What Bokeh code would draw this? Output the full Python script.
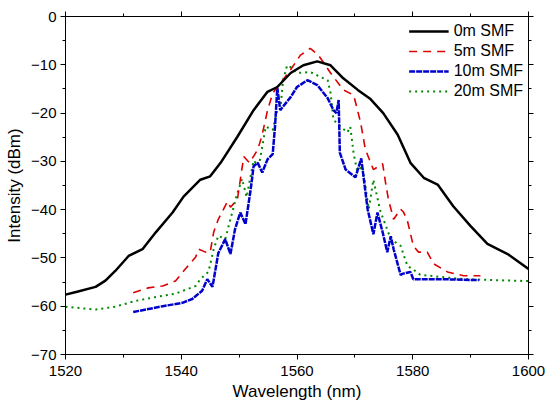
from bokeh.plotting import figure
from bokeh.models import (LinearAxis, FixedTicker, Range1d, Legend, LegendItem)
from bokeh.embed import file_html
from bokeh.resources import INLINE

# ---------------- data ----------------
wl0 = [1520, 1522, 1525.2, 1526.9, 1528.6, 1530.9, 1533.3, 1535.6, 1538.5, 1540.4,
       1543.3, 1545, 1546.8, 1549.7, 1552.5, 1554.9, 1556.6, 1558.9, 1561.1, 1563.5,
       1565.8, 1568, 1570.5, 1572.7, 1574.9, 1577.4, 1579.6, 1581.9, 1584.3, 1587,
       1590, 1592.9, 1596.4, 1600]
I0 = [-57.6, -57.0, -56.0, -54.7, -52.7, -49.6, -48.2, -44.7, -40.6, -37.3,
      -33.8, -33.1, -30.3, -24.9, -19.4, -15.6, -14.6, -11.7, -10.1, -9.3,
      -10.1, -12.8, -15.2, -17.1, -20.0, -24.5, -30.3, -33.4, -34.8, -39.3,
      -43.4, -47.1, -49.2, -52.3]

wl5 = [1531.7, 1534.3, 1536.8, 1539.0, 1540.7, 1542.5, 1543.0, 1544.2, 1545.0, 1545.6,
       1546.4, 1548.0, 1548.5, 1549.7, 1550.8, 1551.8, 1553.2, 1553.9, 1554.9, 1555.8,
       1556.6, 1558.5, 1560.6, 1562.3, 1563.7, 1565.8, 1568.0, 1569.8, 1571.0, 1571.8,
       1573.2, 1574.8, 1575.3, 1575.8, 1576.7, 1577.9, 1578.4, 1579.1, 1580.1, 1581.0,
       1582.5, 1583.6, 1586.0, 1588.8, 1591.7]
I5 = [-57.2, -56.2, -55.8, -54.8, -52.3, -49.8, -48.2, -48.8, -48.8, -44.7,
      -42.0, -38.3, -39.5, -37.9, -29.0, -30.3, -27.6, -24.9, -19.5, -15.9,
      -14.6, -11.7, -8.0, -6.6, -8.0, -11.7, -15.2, -16.3, -22.0, -27.5,
      -31.7, -30.5, -34.4, -37.9, -42.0, -39.9, -40.5, -42.4, -47.5, -48.8,
      -48.8, -51.2, -52.9, -53.7, -53.7]

wl10 = [1531.7, 1536.8, 1540.2, 1541.9, 1543.0, 1543.6, 1544.5, 1545.4, 1546.4, 1547.6,
        1548.5, 1549.3, 1550.2, 1551.1, 1552.0, 1552.5, 1553.2, 1554.0, 1554.9, 1555.8,
        1556.2, 1556.6, 1557.1, 1558.9, 1560.0, 1561.8, 1563.5, 1565.3, 1566.3, 1566.8,
        1567.2, 1567.4, 1568.4, 1570.1, 1571.1, 1572.2, 1573.2, 1573.9, 1574.8, 1575.6,
        1576.2, 1576.7, 1577.9, 1578.2, 1579.6, 1580.1, 1585.0, 1591.4]
I10 = [-61.2, -60.0, -59.3, -58.5, -57.4, -56.8, -54.4, -56.0, -49.0, -46.1,
       -49.2, -44.0, -40.6, -43.0, -35.8, -31.0, -30.3, -32.3, -29.6, -28.5,
       -22.8, -14.8, -19.4, -16.7, -14.6, -13.2, -14.2, -16.9, -19.4, -20.0,
       -17.3, -28.2, -31.7, -33.3, -29.4, -39.9, -45.1, -40.6, -44.7, -48.8,
       -45.5, -48.2, -53.5, -53.3, -52.9, -54.4, -54.4, -54.6]

wl20 = [1520, 1525.2, 1528.6, 1532.1, 1535.6, 1539.0, 1542.5, 1543.3, 1544.7, 1545.6,
        1546.4, 1547.6, 1548.8, 1549.6, 1550.5, 1551.3, 1552.5, 1553.4, 1554.6, 1555.8,
        1556.6, 1557.1, 1557.6, 1558.3, 1558.9, 1560.0, 1562.3, 1564.0, 1565.3, 1565.8,
        1566.3, 1567.5, 1568.7, 1569.2, 1569.8, 1570.4, 1571.3, 1572.4, 1573.2, 1574.4,
        1576.2, 1577.9, 1579.1, 1580.0, 1581.3, 1588.8, 1600]
I20 = [-60.1, -60.7, -60.1, -58.9, -58.1, -57.4, -55.8, -54.4, -52.9, -48.2,
       -45.4, -46.1, -40.6, -37.0, -33.6, -37.4, -29.8, -31.0, -22.8, -23.5,
       -19.4, -19.4, -13.2, -10.1, -10.5, -11.7, -11.5, -12.5, -13.2, -15.9,
       -21.4, -22.8, -24.0, -22.8, -28.5, -32.0, -31.0, -39.9, -33.8, -40.3,
       -46.1, -47.5, -51.7, -52.3, -53.5, -54.4, -54.8]

series_labels = ["0m SMF", "5m SMF", "10m SMF", "20m SMF"]
x_ticks = [1520, 1540, 1560, 1580, 1600]
x_minor = [1530, 1550, 1570, 1590]
y_ticks = [0, -10, -20, -30, -40, -50, -60, -70]
y_minor = [-5, -15, -25, -35, -45, -55, -65]

FONT = "Liberation Sans"

p = figure(width=545, height=403, output_backend="svg", toolbar_location=None,
           x_range=Range1d(1520, 1600), y_range=Range1d(-70, 0),
           x_axis_type=None, y_axis_type=None,
           min_border_left=65, min_border_top=16, min_border_right=17, min_border_bottom=47)
p.xgrid.visible = False
p.ygrid.visible = False
p.outline_line_color = "black"
p.outline_line_width = 1
p.background_fill_color = "white"
p.border_fill_color = "white"


def style_axis(ax, labels=True, standoff=3, label_standoff=2):
    ax.axis_line_color = "black"
    ax.major_tick_line_color = "black"
    ax.minor_tick_line_color = "black"
    ax.major_tick_out = 5
    ax.major_tick_in = 0
    ax.minor_tick_out = 3
    ax.minor_tick_in = 0
    if labels:
        ax.major_label_text_font = FONT
        ax.major_label_text_font_size = "15px"
        ax.major_label_text_color = "black"
        ax.major_label_standoff = standoff
        ax.axis_label_text_font = FONT
        ax.axis_label_text_font_size = "17px"
        ax.axis_label_text_font_style = "normal"
        ax.axis_label_text_color = "black"
        ax.axis_label_standoff = label_standoff
    else:
        ax.major_label_text_font_size = "1px"
        ax.major_label_text_color = None
        ax.major_label_standoff = 0


xt = FixedTicker(ticks=x_ticks, minor_ticks=x_minor)
yt = FixedTicker(ticks=y_ticks, minor_ticks=y_minor)

xb = LinearAxis(ticker=xt, axis_label="Wavelength (nm)")
style_axis(xb, standoff=6, label_standoff=3)
p.add_layout(xb, "below")
yl = LinearAxis(ticker=yt, axis_label="Intensity (dBm)")
style_axis(yl, standoff=4, label_standoff=4)
p.add_layout(yl, "left")
xa = LinearAxis(ticker=FixedTicker(ticks=x_ticks, minor_ticks=x_minor))
style_axis(xa, labels=False)
p.add_layout(xa, "above")
yr = LinearAxis(ticker=FixedTicker(ticks=y_ticks, minor_ticks=y_minor))
style_axis(yr, labels=False)
p.add_layout(yr, "right")

r20 = p.line(wl20, I20, line_color="#008800", line_width=2, line_dash="2 4")
r10 = p.line(wl10, I10, line_color="#0000cc", line_width=2.5, line_dash="6 1")
r5 = p.line(wl5, I5, line_color="#dd0000", line_width=1.6, line_dash="8 6")
r0 = p.line(wl0, I0, line_color="black", line_width=2.5)

legend = Legend(items=[LegendItem(label=series_labels[0], renderers=[r0]),
                       LegendItem(label=series_labels[1], renderers=[r5]),
                       LegendItem(label=series_labels[2], renderers=[r10]),
                       LegendItem(label=series_labels[3], renderers=[r20])],
                location="top_right")
legend.label_text_font = FONT
legend.label_text_font_size = "16px"
legend.label_text_color = "black"
legend.glyph_width = 40
legend.glyph_height = 20
legend.label_height = 20
legend.label_standoff = 5
legend.spacing = 0
legend.padding = 7
legend.margin = 5
legend.border_line_color = None
legend.background_fill_alpha = 0
p.add_layout(legend, "center")

open("out.html", "w").write(file_html(p, INLINE))
